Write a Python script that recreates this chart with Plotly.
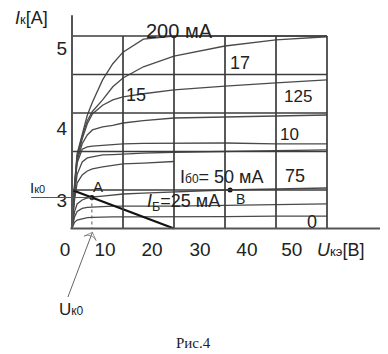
import plotly.graph_objects as go

# Collector–emitter voltage samples (V)
V = [0, 0.5, 1, 2, 3, 4, 6, 8, 10, 14, 20, 30, 40, 50]

# Collector current (A) for each base current curve
I_200 = [2.5, 3.08, 3.47, 3.74, 3.97, 4.14, 4.43, 4.64, 4.79, 4.96, 5.0, 5.0, 5.0, 5.0]
I_175 = [2.5, 3.06, 3.44, 3.70, 3.90, 4.02, 4.17, 4.34, 4.455, 4.60, 4.74, 4.87, 4.95, 4.99]
I_150 = [2.5, 3.04, 3.41, 3.66, 3.86, 3.987, 4.10, 4.17, 4.21, 4.25, 4.30, 4.35, 4.39, 4.43]
I_125 = [2.5, 3.02, 3.38, 3.60, 3.714, 3.78, 3.82, 3.84, 3.87, 3.90, 3.935, 3.95, 3.96, 3.974]
I_100 = [2.5, 3.0, 3.35, 3.53, 3.56, 3.57, 3.58, 3.59, 3.60, 3.605, 3.61, 3.61, 3.60, 3.60]
I_75 = [2.5, 2.95, 3.20, 3.364, 3.416, 3.43, 3.455, 3.46, 3.468, 3.48, 3.49, 3.50, 3.51, 3.52]
I_60 = [2.5, 2.87, 3.09, 3.195, 3.247, 3.273, 3.30, 3.32, 3.338, 3.35, 3.37, None, None, None]
I_50 = [2.5, 2.72, 2.818, 2.87, 2.896, 2.909, 2.92, 2.935, 2.948, 2.96, 2.974, 3.0, 3.013, 3.026]
I_25 = [2.5, 2.65, 2.72, 2.76, 2.775, 2.78, 2.785, 2.79, 2.79, 2.79, 2.79, 2.80, 2.81, 2.82]
I_0 = [2.5, 2.58, 2.61, 2.63, 2.64, 2.645, 2.65, 2.65, 2.65, 2.65, 2.65, 2.655, 2.66, 2.66]
curves = [I_200, I_175, I_150, I_125, I_100, I_75, I_60, I_50, I_25, I_0]

# Load line and operating points
load_V = [0, 20]
load_I = [3.0, 2.5]
A_V, A_I = 3.9, 2.9025
B_V, B_I = 31, 3.0

# Uk0 pointer (from label to axis)
arrow_V = [-0.8, 4.0]
arrow_I = [1.61, 2.45]

# Grid
grid_V = [10, 20, 30, 40, 50]
grid_I = [3.0, 3.5, 4.0, 4.5, 5.0]
I_min = 2.5

# Tick labels (positions as they appear in the picture)
xtick_pos = [-1.37, 6.47, 15.69, 25.1, 34.3, 43.1]
xtick_text = ["0", "10", "20", "30", "40", "50"]
ytick_pos = [4.844, 3.805, 2.87]
ytick_text = ["5", "4", "3"]

XR = [-14.118, 61.96]
YR = [0.870, 5.4675]

fig = go.Figure()
for Ic in curves:
    fig.add_trace(go.Scatter(x=V, y=Ic, mode="lines",
                             line=dict(color="#4a4a4a", width=1.3),
                             hoverinfo="skip", connectgaps=False))

fig.add_trace(go.Scatter(x=load_V, y=load_I, mode="lines", xaxis="x2", yaxis="y2",
                         line=dict(color="#111111", width=2.2)))
fig.add_trace(go.Scatter(x=[A_V, B_V], y=[A_I, B_I], mode="markers",
                         marker=dict(color="#111111", size=5)))
fig.add_trace(go.Scatter(x=arrow_V, y=arrow_I, mode="lines+markers",
                         line=dict(color="#666666", width=1),
                         marker=dict(symbol="arrow-wide-open", angleref="previous",
                                     size=[0, 9], color="#666666",
                                     line=dict(color="#666666", width=1))))

shapes = []
gc = "#3c3c3c"
for gv in grid_V:
    shapes.append(dict(type="line", xref="x", yref="y", x0=gv, x1=gv, y0=I_min, y1=5.0,
                       line=dict(color=gc, width=1.7)))
for gi in grid_I:
    shapes.append(dict(type="line", xref="x", yref="y", x0=0, x1=50, y0=gi, y1=gi,
                       line=dict(color=gc, width=1.7)))
# axes lines
shapes.append(dict(type="line", xref="x", yref="y", x0=0, x1=0, y0=I_min, y1=5.27,
                   line=dict(color="#555555", width=2)))
shapes.append(dict(type="line", xref="x", yref="y", x0=-0.3, x1=60.4, y0=I_min, y1=I_min,
                   line=dict(color="#555555", width=2)))
# Ik0 level line and Uk0 dotted drop
shapes.append(dict(type="line", xref="x", yref="y", x0=-8.0, x1=A_V, y0=A_I, y1=A_I,
                   line=dict(color="#555555", width=1)))
shapes.append(dict(type="line", xref="x", yref="y", x0=A_V, x1=A_V, y0=A_I, y1=I_min,
                   line=dict(color="#555555", width=1, dash="dot")))

tc = "#222222"
F = "Liberation Sans, Arial, sans-serif"
ann = []
def txt(x, y, t, size=18, xa="center", ya="middle", fam=F):
    ann.append(dict(x=x, y=y, xref="x", yref="y", text=t, showarrow=False,
                    xanchor=xa, yanchor=ya, font=dict(family=fam, size=size, color=tc)))

txt(21.0, 5.065, "200 мА", 20)
txt(32.9, 4.65, "17", 18)
txt(12.5, 4.234, "15", 18)
txt(44.3, 4.21, "125", 17)
txt(42.7, 3.727, "10", 17)
txt(43.7, 3.18, "75", 18)
txt(47.1, 2.59, "0", 18)
txt(20.8, 3.169, "I<span style='font-size:12px'>б0</span>= 50 мА", 18, xa="left")
txt(14.3, 2.844, "<i>I</i><sub>Б</sub>=25 мА", 18, xa="left")
txt(5.1, 3.04, "A", 15)
txt(33.1, 2.883, "B", 14)
txt(-8.7, 3.026, "I<span style='font-size:11px'>к0</span>", 15, xa="left")
txt(-2.94, 1.442, "U<span style='font-size:12px'>к0</span>", 17, xa="left")
txt(-11.6, 5.24, "<i>I</i><span style='font-size:13px'>к</span>[A]", 18, xa="left")
txt(47.6, 2.22, "<i>U</i><span style='font-size:13px'>кэ</span>[B]", 18, xa="left")
txt(23.9, 1.013, "Рис.4", 15, fam="Liberation Serif, Times New Roman, serif")

fig.update_layout(
    width=388, height=354, margin=dict(l=0, r=0, t=0, b=0),
    paper_bgcolor="white", plot_bgcolor="white", showlegend=False,
    shapes=shapes, annotations=ann,
    xaxis=dict(range=XR, visible=False),
    yaxis=dict(range=YR, visible=False),
    xaxis2=dict(overlaying="x", anchor="free", position=(354 - 228) / 354, range=XR,
                tickvals=xtick_pos, ticktext=xtick_text, showline=False, showgrid=False,
                zeroline=False, ticks="", ticklabelstandoff=8,
                tickfont=dict(family=F, size=19, color=tc)),
    yaxis2=dict(overlaying="y", anchor="free", position=72 / 388, range=YR, side="left",
                tickvals=ytick_pos, ticktext=ytick_text, showline=False, showgrid=False,
                zeroline=False, ticks="", ticklabelstandoff=5,
                tickfont=dict(family=F, size=19, color=tc)),
)
fig.write_html("out.html")
